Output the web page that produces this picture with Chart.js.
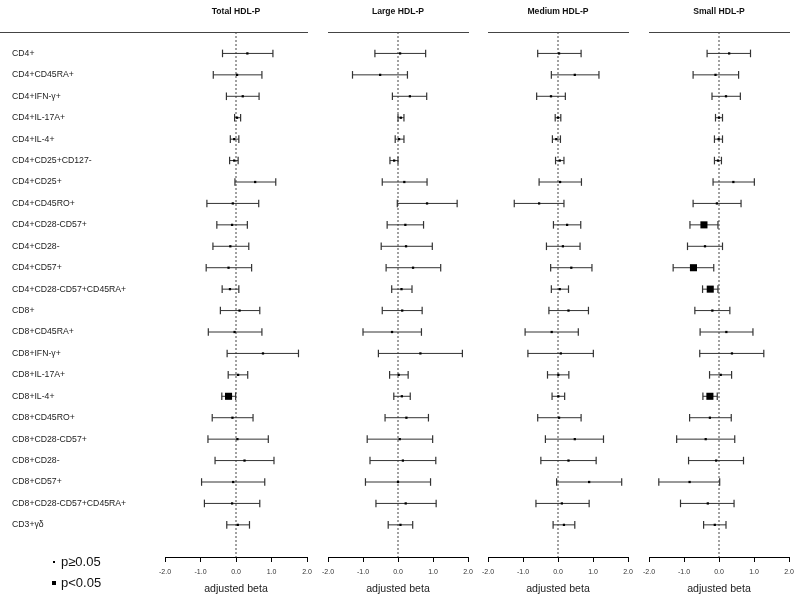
<!DOCTYPE html>
<html>
<head>
<meta charset="utf-8">
<script src="https://cdn.jsdelivr.net/npm/chart.js@4.4.0/dist/chart.umd.min.js"></script>
<style>
body{margin:0;background:#fff;width:800px;height:601px;position:relative;overflow:hidden;font-family:"Liberation Sans",Arial,sans-serif}
canvas{position:absolute;top:0}
.key{position:absolute;left:61px;font-size:13px;line-height:15px;color:#111}
.mk{position:absolute;background:#000}
</style>
</head>
<body>
<canvas id="c0" width="321" height="601" style="left:0"></canvas>
<canvas id="c1" width="168" height="601" style="left:314px"></canvas>
<canvas id="c2" width="168" height="601" style="left:474px"></canvas>
<canvas id="c3" width="168" height="601" style="left:635px"></canvas>
<span class="mk" style="left:53px;top:561px;width:2px;height:2px"></span>
<div class="key" style="top:554px">p≥0.05</div>
<span class="mk" style="left:52px;top:581px;width:4px;height:4px"></span>
<div class="key" style="top:575px">p&lt;0.05</div>
<script>
const categories = ['CD4+', 'CD4+CD45RA+', 'CD4+IFN-γ+', 'CD4+IL-17A+', 'CD4+IL-4+', 'CD4+CD25+CD127-',
    'CD4+CD25+', 'CD4+CD45RO+', 'CD4+CD28-CD57+', 'CD4+CD28-', 'CD4+CD57+', 'CD4+CD28-CD57+CD45RA+',
    'CD8+', 'CD8+CD45RA+', 'CD8+IFN-γ+', 'CD8+IL-17A+', 'CD8+IL-4+', 'CD8+CD45RO+', 'CD8+CD28-CD57+',
    'CD8+CD28-', 'CD8+CD57+', 'CD8+CD28-CD57+CD45RA+', 'CD3+γδ'];
const panelTitles = ['Total HDL-P', 'Large HDL-P', 'Medium HDL-P', 'Small HDL-P'];
const xTicks = [-2, -1, 0, 1, 2];

// adjusted beta and 95% CI per panel
const totalBeta = [0.32, 0.03, 0.19, 0.03, -0.05, -0.05, 0.54, -0.09, -0.11, -0.16, -0.21, -0.17, 0.10, -0.04, 0.76, 0.06, -0.21, -0.10, 0.04, 0.24, -0.08, -0.11, 0.05];
const totalLo = [-0.38, -0.64, -0.27, -0.04, -0.16, -0.18, -0.03, -0.82, -0.54, -0.65, -0.84, -0.39, -0.44, -0.78, -0.25, -0.22, -0.40, -0.67, -0.79, -0.59, -0.97, -0.89, -0.26];
const totalHi = [1.04, 0.73, 0.65, 0.13, 0.08, 0.06, 1.12, 0.64, 0.32, 0.36, 0.44, 0.08, 0.67, 0.73, 1.76, 0.33, -0.01, 0.48, 0.91, 1.07, 0.81, 0.67, 0.38];
const totalSig = [16];

const largeBeta = [0.06, -0.51, 0.34, 0.08, 0.03, -0.11, 0.18, 0.83, 0.21, 0.23, 0.43, 0.10, 0.12, -0.17, 0.64, 0.02, 0.11, 0.24, 0.05, 0.14, 0.00, 0.22, 0.07];
const largeLo = [-0.66, -1.30, -0.16, 0.00, -0.08, -0.23, -0.45, -0.02, -0.31, -0.48, -0.34, -0.18, -0.45, -1.00, -0.56, -0.24, -0.12, -0.37, -0.88, -0.80, -0.93, -0.63, -0.28];
const largeHi = [0.79, 0.27, 0.82, 0.17, 0.17, 0.00, 0.83, 1.69, 0.73, 0.98, 1.22, 0.40, 0.69, 0.67, 1.84, 0.29, 0.35, 0.87, 0.99, 1.08, 0.93, 1.09, 0.42];
const largeSig = [];

const mediumBeta = [0.03, 0.48, -0.20, 0.00, -0.05, 0.05, 0.06, -0.54, 0.26, 0.14, 0.38, 0.05, 0.30, -0.18, 0.08, 0.01, 0.01, 0.03, 0.48, 0.30, 0.89, 0.11, 0.17];
const mediumLo = [-0.58, -0.19, -0.61, -0.08, -0.16, -0.07, -0.54, -1.25, -0.13, -0.33, -0.21, -0.19, -0.26, -0.94, -0.86, -0.30, -0.17, -0.58, -0.36, -0.49, -0.04, -0.63, -0.14];
const mediumHi = [0.66, 1.17, 0.21, 0.08, 0.07, 0.17, 0.67, 0.17, 0.65, 0.63, 0.97, 0.30, 0.87, 0.58, 1.01, 0.31, 0.19, 0.66, 1.30, 1.09, 1.82, 0.89, 0.48];
const mediumSig = [];

const smallBeta = [0.29, -0.10, 0.20, 0.00, -0.01, -0.03, 0.41, -0.06, -0.43, -0.40, -0.73, -0.25, -0.19, 0.21, 0.37, 0.05, -0.26, -0.26, -0.38, -0.08, -0.84, -0.32, -0.12];
const smallLo = [-0.34, -0.74, -0.20, -0.10, -0.13, -0.13, -0.17, -0.74, -0.83, -0.90, -1.31, -0.47, -0.69, -0.54, -0.55, -0.27, -0.46, -0.84, -1.21, -0.87, -1.72, -1.10, -0.44];
const smallHi = [0.90, 0.56, 0.61, 0.10, 0.10, 0.07, 1.01, 0.63, -0.03, 0.10, -0.15, -0.03, 0.31, 0.97, 1.28, 0.36, -0.05, 0.35, 0.45, 0.70, 0.02, 0.43, 0.20];
const smallSig = [8, 10, 11, 16];

const FONT = '"Liberation Sans", Arial, sans-serif';

// extends the top rule of the first panel over the label column
const topRule = {
    id: 'topRule',
    afterDraw(chart) {
        const ctx = chart.ctx;
        const y = Math.round(chart.scales.xTop.bottom - 0.5) + 0.5;
        ctx.save();
        ctx.strokeStyle = '#444';
        ctx.lineWidth = 1;
        ctx.beginPath();
        ctx.moveTo(0, y);
        ctx.lineTo(chart.chartArea.left, y);
        ctx.stroke();
        ctx.restore();
    }
};

function makePanel(id, title, beta, lo, hi, sig, first) {
    var datasets = [];
    // dotted line at beta = 0
    datasets.push({
        data: [{x: 0, y: -1}, {x: 0, y: 23.5}],
        showLine: true, borderColor: '#444', borderWidth: 1, borderDash: [2, 2],
        pointRadius: 0, order: 3
    });
    // confidence intervals with end caps
    for (let i = 0; i < beta.length; i++) {
        datasets.push({
            data: [{x: lo[i], y: i}, {x: hi[i], y: i}],
            showLine: true, borderColor: '#333', borderWidth: 1,
            pointStyle: 'line', pointRotation: 90, pointRadius: 3.8,
            pointBorderWidth: 1.2, pointBorderColor: '#333', order: 2
        });
    }
    // point estimates, big square when p<0.05
    datasets.push({
        data: beta.map((b, i) => ({x: b, y: i})),
        pointStyle: 'rect',
        pointRadius: beta.map((b, i) => sig.includes(i) ? 5 : 1.6),
        pointBackgroundColor: '#000', pointBorderWidth: 0, order: 1
    });

    return new Chart(document.getElementById(id), {
        type: 'scatter',
        data: {datasets: datasets},
        plugins: first ? [topRule] : [],
        options: {
            responsive: false,
            animation: false,
            events: [],
            layout: {padding: {left: first ? 12 : 14, right: 14, top: 0, bottom: 0}},
            plugins: {legend: {display: false}, tooltip: {enabled: false}},
            scales: {
                x: {
                    type: 'linear', position: 'bottom', min: -2, max: 2,
                    afterBuildTicks: a => { a.ticks = xTicks.map(v => ({value: v})); },
                    afterFit: a => { a.height = 44; },
                    ticks: {callback: v => v.toFixed(1), font: {size: 7, family: FONT}, color: '#333', padding: 6, maxRotation: 0},
                    grid: {drawOnChartArea: false, drawTicks: true, tickLength: 5, tickColor: '#000', tickWidth: 1},
                    border: {display: true, color: '#000', width: 1},
                    title: {display: true, text: 'adjusted beta', font: {size: 10.6, family: FONT}, color: '#222', padding: {top: 0, bottom: 5.5}}
                },
                xTop: {
                    type: 'linear', position: 'top', min: -2, max: 2,
                    afterFit: a => { a.height = 32; },
                    ticks: {display: false},
                    grid: {display: false, drawTicks: false},
                    border: {display: true, color: '#444', width: 1},
                    title: {display: true, text: title, font: {size: 8.6, weight: 'bold', family: FONT}, color: '#111', padding: {top: 6.5, bottom: 0}}
                },
                y: {
                    type: 'linear', reverse: true, min: -1, max: 23.5, display: first,
                    afterFit: a => { if (first) a.width = 153; },
                    ticks: {stepSize: 1, autoSkip: false, crossAlign: 'far', padding: 0,
                        callback: v => categories[v] || '', font: {size: 8.7, family: FONT}, color: '#222'},
                    grid: {display: false, drawTicks: false},
                    border: {display: false}
                }
            }
        }
    });
}

makePanel('c0', panelTitles[0], totalBeta, totalLo, totalHi, totalSig, true);
makePanel('c1', panelTitles[1], largeBeta, largeLo, largeHi, largeSig, false);
makePanel('c2', panelTitles[2], mediumBeta, mediumLo, mediumHi, mediumSig, false);
makePanel('c3', panelTitles[3], smallBeta, smallLo, smallHi, smallSig, false);
</script>
</body>
</html>
